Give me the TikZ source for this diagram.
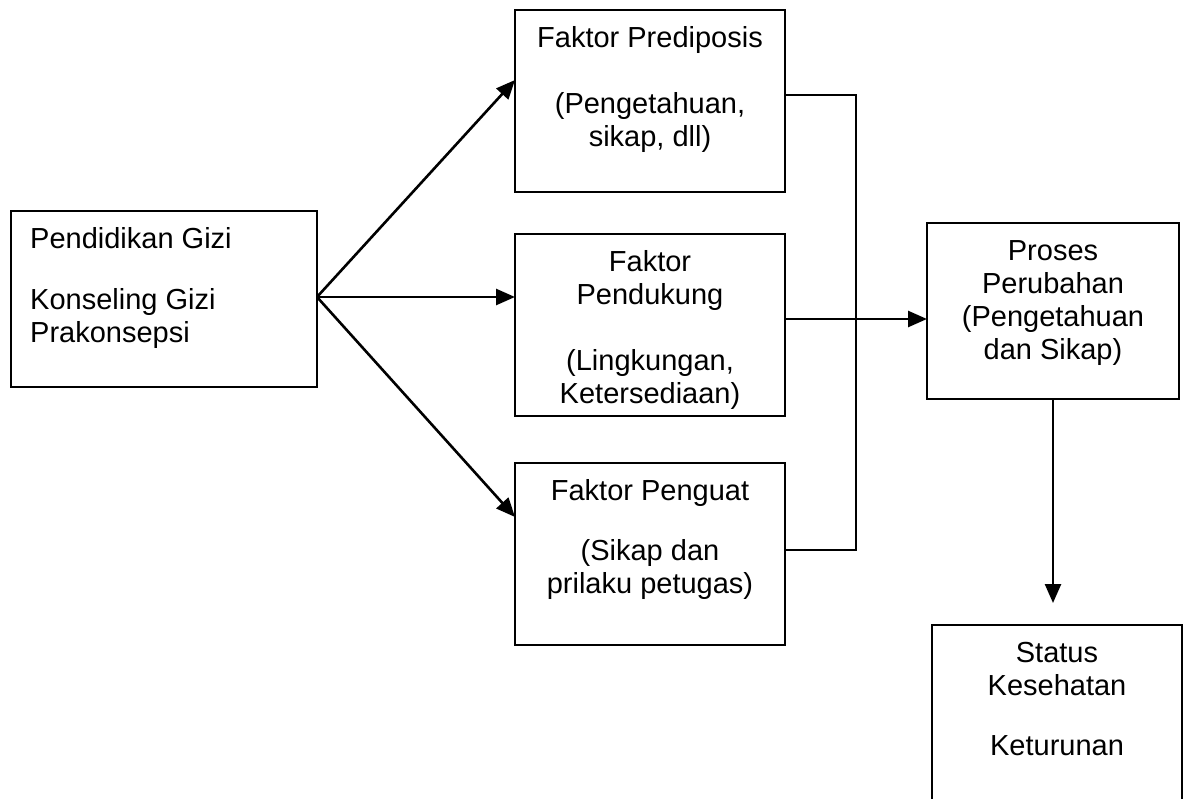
\documentclass[tikz,border=0pt]{standalone}
\usepackage{fontspec}
\setmainfont{Liberation Sans}
\usetikzlibrary{arrows.meta,calc}
\newcommand\fl{\rule{0pt}{24pt}}
\begin{document}
\begin{tikzpicture}[x=1pt,y=-1pt,
  box/.style={draw, line width=1.2pt, inner sep=0pt, outer sep=0pt, anchor=north west},
  txt/.style={anchor=north, inner sep=0pt, align=center, font=\fontsize{29}{33}\selectfont},
  conn/.style={line width=2.6pt},
  arr/.style={line width=2.6pt, -{Triangle[length=19pt,width=16pt]}}]
\clip (0,0) rectangle (1189,799);
\fill[white] (0,0) rectangle (1189,799);
% boxes
\node[box, minimum width=306, minimum height=176] (L) at (11,211) {};
\node[box, minimum width=270, minimum height=182] (P) at (515,10) {};
\node[box, minimum width=270, minimum height=182] (M) at (515,234) {};
\node[box, minimum width=270, minimum height=182] (G) at (515,463) {};
\node[box, minimum width=252, minimum height=176] (R) at (927,223) {};
\node[box, minimum width=250, minimum height=260] (S) at (932,625) {};
% texts
\node[txt, anchor=north west, align=left] (tL) at ($(L.north west)+(19,13)$) {\fl Pendidikan Gizi\\[28pt]Konseling Gizi\\Prakonsepsi};
\node[txt] (tP) at ($(P.north)+(0,13)$) {\fl Faktor Prediposis\\[33pt](Pengetahuan,\\sikap, dll)};
\node[txt] (tM) at ($(M.north)+(0,13)$) {\fl Faktor\\Pendukung\\[33pt](Lingkungan,\\Ketersediaan)};
\node[txt] (tG) at ($(G.north)+(0,13)$) {\fl Faktor Penguat\\[27pt](Sikap dan\\prilaku petugas)};
\node[txt] (tR) at ($(R.north)+(0,13)$) {\fl Proses\\Perubahan\\(Pengetahuan\\dan Sikap)};
\node[txt] (tS) at ($(S.north)+(0,13)$) {\fl Status\\Kesehatan\\[27pt]Keturunan};
% fan arrows
\coordinate (o) at ($(L.east)+(0,-2)$);
\draw[arr] (o) -- ($(P.north west)+(0,70)$);
\draw[arr] (o) -- (o -| M.west);
\draw[arr] (o) -- ($(G.north west)+(0,54)$);
% joining connectors
\coordinate (pt) at ($(P.north east)+(0,85)$);
\coordinate (gt) at ($(G.north east)+(0,87)$);
\coordinate (mt) at ($(M.north east)+(0,85)$);
\draw[conn] (pt) -- ++(71,0) |- (gt);
\draw[arr] (mt) -- (mt -| R.west);
\coordinate (st) at ($(S.north)+(0,-22)$);
\draw[arr] (R.south) -- (R.south |- st);
\end{tikzpicture}
\end{document}
